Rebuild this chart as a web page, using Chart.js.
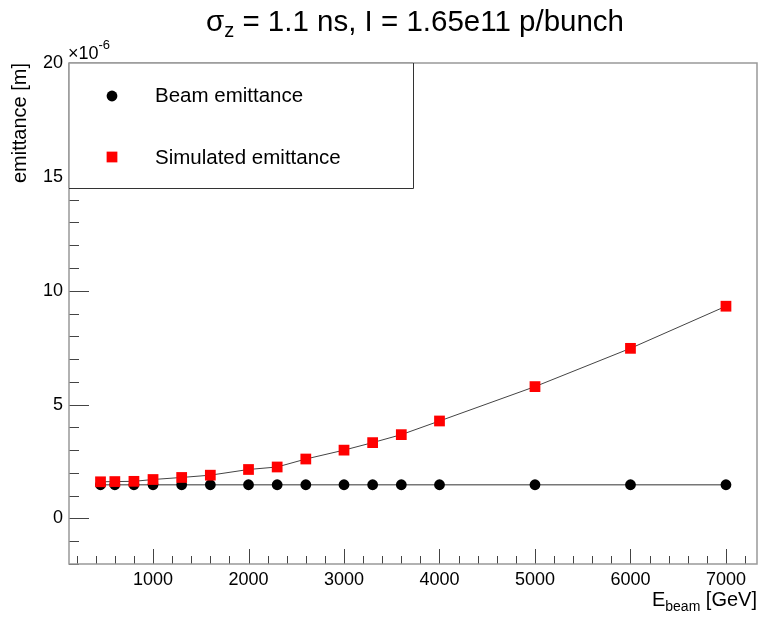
<!DOCTYPE html>
<html>
<head>
<meta charset="utf-8">
<script src="https://cdn.jsdelivr.net/npm/chart.js@4.4.1/dist/chart.umd.min.js"></script>
<style>
  html, body { margin: 0; padding: 0; background: #fff; overflow: hidden; }
  #wrap { width: 760px; height: 617px; position: relative; }
  canvas { display: block; }
</style>
</head>
<body>
<div id="wrap"><canvas id="chart"></canvas></div>
<script>
// beam energy [GeV] and emittance in units of 1e-6 m
const energies = [450, 600, 800, 1000, 1300, 1600, 2000, 2300, 2600, 3000, 3300, 3600, 4000, 5000, 6000, 7000];
const beamEmittance = [1.48, 1.48, 1.48, 1.48, 1.48, 1.48, 1.48, 1.48, 1.48, 1.48, 1.48, 1.48, 1.48, 1.48, 1.48, 1.48];
const simulatedEmittance = [1.61, 1.62, 1.63, 1.71, 1.8, 1.9, 2.15, 2.26, 2.61, 3.0, 3.33, 3.68, 4.28, 5.79, 7.47, 9.32];
const xTicks = [1000, 2000, 3000, 4000, 5000, 6000, 7000];
const yTicks = [0, 5, 10, 15, 20];
const legendLabels = ["Beam emittance", "Simulated emittance"];

const FONT = '"Liberation Sans", Arial, Helvetica, sans-serif';

function toPoints(xs, ys) {
  return xs.map(function (x, i) { return { x: x, y: ys[i] }; });
}

// draw a run of text pieces (sub/superscripts) starting at x
function drawParts(ctx, parts, x, y) {
  parts.forEach(function (p) {
    ctx.font = p.s + "px " + FONT;
    ctx.fillText(p.t, x, y + p.dy);
    x += ctx.measureText(p.t).width;
  });
}

function partsWidth(ctx, parts) {
  let w = 0;
  parts.forEach(function (p) {
    ctx.font = p.s + "px " + FONT;
    w += ctx.measureText(p.t).width;
  });
  return w;
}

// ROOT style frame, inward ticks, legend box and titles
const rootStyle = {
  id: "rootStyle",
  afterDraw: function (chart) {
    const ctx = chart.ctx;
    const a = chart.chartArea;
    const xs = chart.scales.x;
    const ys = chart.scales.y;
    ctx.save();

    // ticks
    ctx.strokeStyle = "#444";
    ctx.lineWidth = 1;
    ctx.beginPath();
    for (let v = 200; v <= 7200; v += 200) {
      const px = Math.round(xs.getPixelForValue(v)) + 0.5;
      if (px < a.left || px > a.right) continue;
      const len = v % 1000 === 0 ? 15 : 8;
      ctx.moveTo(px, a.bottom);
      ctx.lineTo(px, a.bottom - len);
    }
    for (let v = -2; v <= 20; v += 1) {
      const py = Math.round(ys.getPixelForValue(v)) + 0.5;
      const len = v % 5 === 0 ? 20 : 10;
      ctx.moveTo(a.left, py);
      ctx.lineTo(a.left + len, py);
    }
    ctx.stroke();

    // frame
    ctx.strokeStyle = "#999";
    ctx.lineWidth = 1.5;
    ctx.strokeRect(a.left, a.top, a.right - a.left, a.bottom - a.top);

    // legend box
    const lx = a.left, ly = a.top, lw = 344, lh = 125;
    ctx.fillStyle = "#fff";
    ctx.fillRect(lx, ly, lw, lh);
    ctx.strokeStyle = "#333";
    ctx.lineWidth = 1;
    ctx.beginPath();
    ctx.moveTo(lx + lw + 0.5, ly);
    ctx.lineTo(lx + lw + 0.5, ly + lh + 0.5);
    ctx.lineTo(lx, ly + lh + 0.5);
    ctx.stroke();
    ctx.strokeStyle = "#999";
    ctx.lineWidth = 1.5;
    ctx.beginPath();
    ctx.moveTo(lx, ly);
    ctx.lineTo(lx + lw, ly);
    ctx.moveTo(lx, ly);
    ctx.lineTo(lx, ly + lh);
    ctx.stroke();

    const beamDs = chart.data.datasets[1];
    const simDs = chart.data.datasets[0];
    ctx.fillStyle = beamDs.pointBackgroundColor;
    ctx.beginPath();
    ctx.arc(112, 96, beamDs.pointRadius, 0, Math.PI * 2);
    ctx.fill();
    const half = simDs.pointRadius * Math.SQRT1_2;
    ctx.fillStyle = simDs.pointBackgroundColor;
    ctx.fillRect(112 - half, 157 - half, half * 2, half * 2);

    ctx.fillStyle = "#000";
    ctx.font = "20.5px " + FONT;
    ctx.textAlign = "left";
    ctx.textBaseline = "middle";
    ctx.fillText(legendLabels[0], 155, 96);
    ctx.fillText(legendLabels[1], 155, 158);

    ctx.textAlign = "left";
    ctx.textBaseline = "alphabetic";

    // title with subscript
    const title = [
      { t: "\u03c3", s: 29.5, dy: 0 },
      { t: "z", s: 20, dy: 6 },
      { t: " = 1.1 ns, I = 1.65e11 p/bunch", s: 29.5, dy: 0 }
    ];
    drawParts(ctx, title, 415 - partsWidth(ctx, title) / 2, 31);

    // x axis title E_beam [GeV]
    const xTitle = [
      { t: "E", s: 20, dy: 0 },
      { t: "beam", s: 14, dy: 5 },
      { t: " [GeV]", s: 20, dy: 0 }
    ];
    drawParts(ctx, xTitle, a.right - partsWidth(ctx, xTitle), 606);

    // axis exponent
    drawParts(ctx, [
      { t: "\u00d710", s: 18, dy: 0 },
      { t: "-6", s: 13, dy: -10 }
    ], 68, 59);

    // y axis title
    ctx.save();
    ctx.translate(20, a.top);
    ctx.rotate(-Math.PI / 2);
    ctx.font = "20px " + FONT;
    ctx.textAlign = "right";
    ctx.textBaseline = "middle";
    ctx.fillText("emittance [m]", 0, 0);
    ctx.restore();

    ctx.restore();
  }
};

const ctx = document.getElementById("chart").getContext("2d");
const myChart = new Chart(ctx, {
  type: "scatter",
  data: {
    datasets: [
      {
        label: legendLabels[1],
        data: toPoints(energies, simulatedEmittance),
        showLine: true,
        borderColor: "#444",
        borderWidth: 1,
        pointStyle: "rect",
        pointRadius: 7.6,
        pointBackgroundColor: "#ff0000",
        pointBorderColor: "#ff0000",
        pointBorderWidth: 0,
        tension: 0,
        order: 1,
      },
      {
        label: legendLabels[0],
        data: toPoints(energies, beamEmittance),
        showLine: true,
        borderColor: "#777",
        borderWidth: 1.5,
        pointStyle: "circle",
        pointRadius: 5.4,
        pointBackgroundColor: "#000",
        pointBorderColor: "#000",
        pointBorderWidth: 0,
        tension: 0,
        order: 2,
      },
    ],
  },
  options: {
    responsive: true,
    maintainAspectRatio: false,
    animation: false,
    layout: { autoPadding: false, padding: { top: 63, right: 3, left: 0, bottom: 0 } },
    plugins: {
      legend: { display: false },
      tooltip: { enabled: false },
      title: { display: false },
    },
    scales: {
      x: {
        type: "linear",
        min: 120,
        max: 7325,
        grid: { display: false, drawTicks: false },
        border: { display: false },
        afterFit: function (scale) {
          scale.height = 53;
          scale.paddingLeft = 0;
          scale.paddingRight = 0;
        },
        afterBuildTicks: function (scale) {
          scale.ticks = xTicks.map(function (v) { return { value: v }; });
        },
        ticks: {
          autoSkip: false,
          maxRotation: 0,
          padding: 5,
          color: "#000",
          font: { family: FONT, size: 18 },
          callback: function (v) { return String(v); },
        },
      },
      y: {
        type: "linear",
        min: -2,
        max: 20,
        grid: { display: false, drawTicks: false },
        border: { display: false },
        afterFit: function (scale) {
          scale.width = 69;
          scale.paddingTop = 0;
          scale.paddingBottom = 0;
        },
        afterBuildTicks: function (scale) {
          scale.ticks = yTicks.map(function (v) { return { value: v }; });
        },
        ticks: {
          autoSkip: false,
          padding: 6,
          color: "#000",
          font: { family: FONT, size: 18 },
          callback: function (v) { return String(v); },
        },
      },
    },
  },
  plugins: [rootStyle],
});
</script>
</body>
</html>
